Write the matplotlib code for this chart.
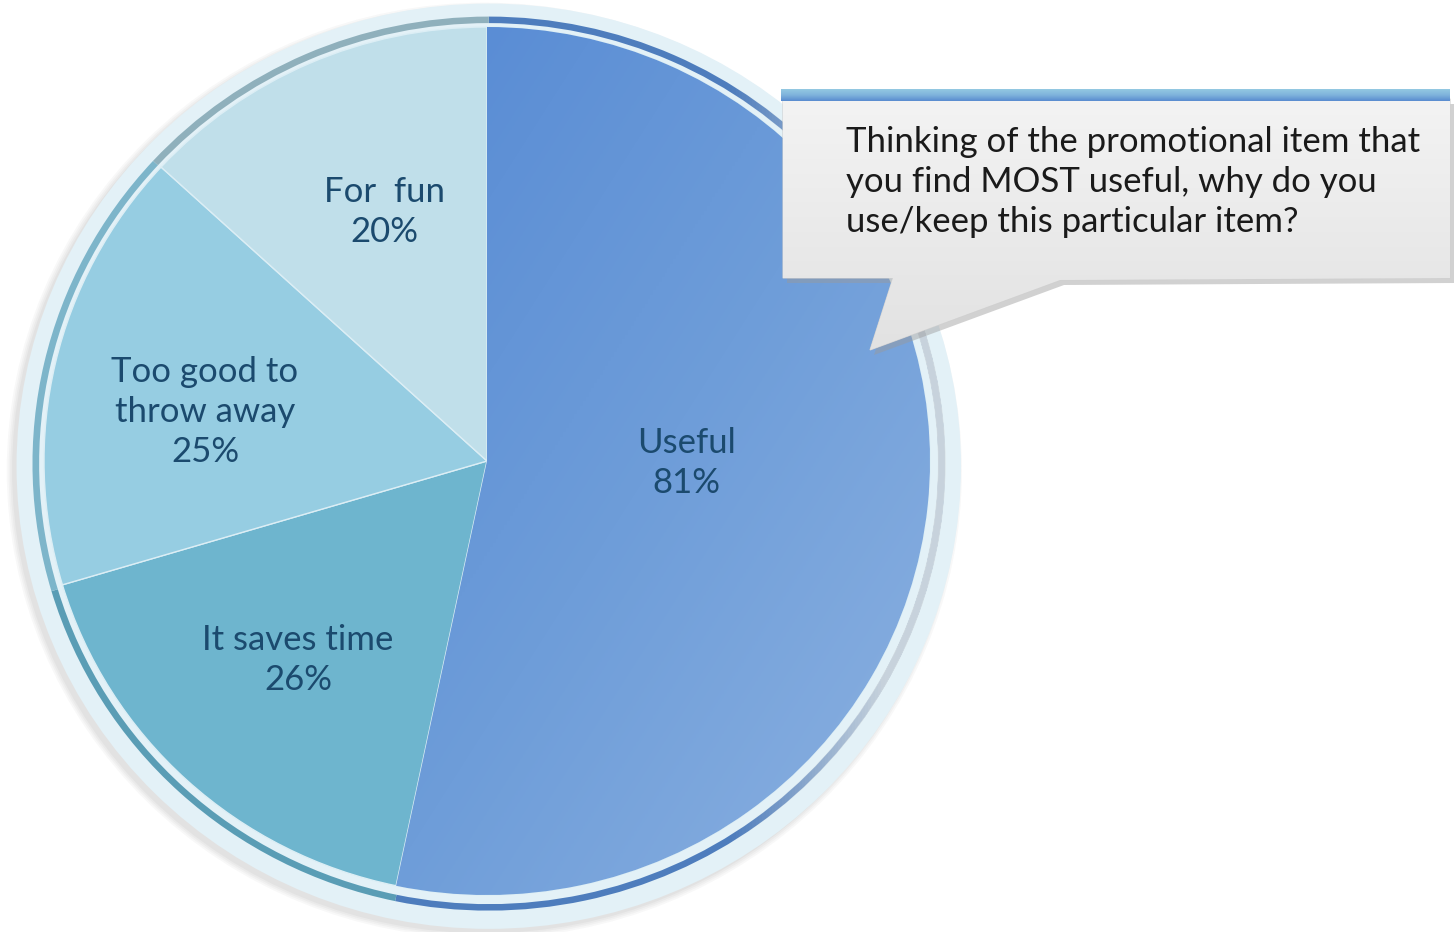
import numpy as np
import matplotlib
matplotlib.use('Agg')
import matplotlib.pyplot as plt
from matplotlib.patches import Circle, Annulus, Polygon
from matplotlib.colors import LinearSegmentedColormap, to_rgb

plt.rcParams['font.family'] = ['Lato', 'DejaVu Sans']

# survey answers (share of respondents, multiple answers allowed)
categories = ['Useful', 'It saves time', 'Too good to\nthrow away', 'For  fun']
percent = [81, 26, 25, 20]
slice_colors = ['#6A9BD8', '#6EB5CE', '#96CDE2', '#C0DFEA']
rim_colors = ['#4E7DBD', '#5A9DB5', '#7DB5CA', '#8FB0BC']
question = ('Thinking of the promotional item that\n'
            'you find MOST useful, why do you\n'
            'use/keep this particular item?')

W, H = 1454, 932
fig = plt.figure(figsize=(W / 100, H / 100), dpi=100)

# pie axes: unit circle mapped onto a slightly wide ellipse (pixels)
pcx, pcy, rx, ry = 487, 461, 443, 434
L = 1.12
pax = fig.add_axes([(pcx - L * rx) / W, (H - pcy - L * ry) / H,
                    2 * L * rx / W, 2 * L * ry / H])

# soft shadow and the pale outer ring
for i, a in enumerate([0.05, 0.05, 0.06, 0.07]):
    pax.add_patch(Circle((-0.006, -0.022), 1.078 - 0.004 * i,
                         color='#7F7F7F', alpha=a, lw=0, zorder=1))
pax.add_patch(Circle((0.004, -0.012), 1.066, color='#E3F1F7', lw=0, zorder=2))

# darker rim just outside the pie
rim, _ = pax.pie(percent, startangle=90, counterclock=False, center=(0.004, -0.006),
                 radius=1.03, colors=rim_colors,
                 wedgeprops=dict(width=0.015, linewidth=0), frame=True)
for w in rim:
    w.set_zorder(3)

# the rim fades to grey on the lit right-hand side
ring = Annulus((0.004, -0.006), 1.031, 0.017, facecolor='none', lw=0)
pax.add_patch(ring)
xs = np.linspace(-L, L, 300)
fade = np.zeros((300, 300, 4))
fade[..., :3] = to_rgb('#D6DDE0')
fade[..., 3] = np.clip((xs[None, :] - 0.55) / 0.35, 0, 1) * 0.9
im_r = pax.imshow(fade, extent=[-L, L, -L, L], origin='upper', zorder=3.5)
im_r.set_clip_path(ring)

# main pie
wedges, _ = pax.pie(percent, startangle=90, counterclock=False, center=(0, 0),
                    radius=1.0, colors=slice_colors,
                    wedgeprops=dict(edgecolor='#DCEEF5', linewidth=1), frame=True)
for w in wedges:
    w.set_zorder(4)

# diagonal shading on the large slice
gx, gy = np.meshgrid(np.linspace(0, 1, 200), np.linspace(0, 1, 200))
grad = (gx + gy) / 2
cmap = LinearSegmentedColormap.from_list('useful', ['#5589D4', '#6E9DD9', '#8DB2E1'])
im = pax.imshow(grad, extent=[-0.25, 1.02, -1.02, 1.02], cmap=cmap,
                origin='upper', zorder=5, interpolation='bilinear')
im.set_clip_path(wedges[0])

pax.set_xlim(-L, L)
pax.set_ylim(-L, L)
pax.set_aspect('auto')
pax.axis('off')

# overlay axes in pixel units (rows counted from the top)
ax = fig.add_axes([0, 0, 1, 1])
ax.set_xlim(0, W)
ax.set_ylim(H, 0)
ax.axis('off')

label_pos = [(686, 463), (298, 660), (205, 412), (384, 212)]
for name, v, (lx, ly) in zip(categories, percent, label_pos):
    ax.text(lx, ly, f'{name}\n{v}%', ha='center', va='center',
            fontsize=25, color='#1B4A6E', linespacing=1.3, zorder=7)

# callout box with pointer
box = [(783, 99), (1450, 99), (1450, 278), (1060, 280), (870, 350),
       (893, 278), (783, 278)]
shadow = Polygon([(x + 4, y + 5) for x, y in box], closed=True,
                 color='#9A9A9A', alpha=0.45, lw=0, zorder=8)
ax.add_patch(shadow)
callout = Polygon(box, closed=True, facecolor='#EEEEEE',
                  edgecolor='#D0D0D0', lw=0.8, zorder=9)
ax.add_patch(callout)
bg = np.linspace(0, 1, 100).reshape(-1, 1)
grey = LinearSegmentedColormap.from_list('grey', ['#F3F3F3', '#E2E2E2'])
im2 = ax.imshow(bg, extent=[783, 1450, 350, 99], cmap=grey,
                origin='upper', aspect='auto', zorder=9.5)
im2.set_clip_path(callout)

bar = np.linspace(0, 1, 20).reshape(-1, 1)
blue = LinearSegmentedColormap.from_list('bar', ['#93C8E2', '#7FB3DC', '#5A8DD0'])
ax.imshow(bar, extent=[781, 1450, 101, 89], cmap=blue, origin='upper',
          aspect='auto', zorder=10)

ax.text(846, 182, question, ha='left', va='center', fontsize=25,
        color='#1A1A1A', linespacing=1.3, zorder=11)

ax.set_xlim(0, W)
ax.set_ylim(H, 0)

fig.savefig('out.png', dpi=100, facecolor='white')
